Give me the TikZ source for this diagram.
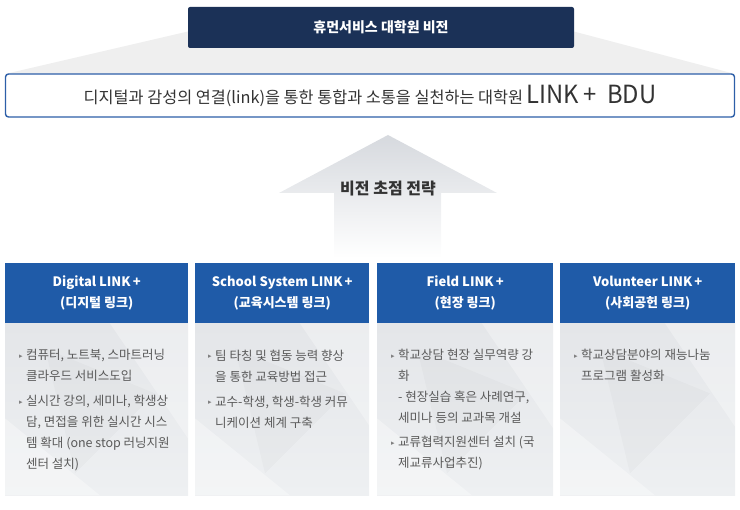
\documentclass[tikz,border=0pt]{standalone}
\usepackage{fontspec}
\setmainfont{Noto Sans CJK KR}
\newfontfamily\narrowfont[FakeStretch=0.95]{Noto Sans CJK KR}
\newfontfamily\bulletfont{DejaVu Sans}
\usetikzlibrary{positioning}
\definecolor{navy}{HTML}{1B3157}
\definecolor{linkblue}{HTML}{1F5BA8}
\definecolor{frameblue}{HTML}{2D5FA8}
\definecolor{fangray}{HTML}{EFEFEF}
\definecolor{arrowtop}{HTML}{D6D9DE}
\definecolor{bodytop}{HTML}{E4E6E9}
\definecolor{bodybot}{HTML}{EEF0F2}
\definecolor{bodytext}{HTML}{595959}
\definecolor{maintext}{HTML}{333333}
\newcommand\bul{\leavevmode\llap{\raisebox{1.5pt}{\color{gray}\bulletfont\fontsize{7}{7}\selectfont ▸}\hspace{3.5pt}}}
\begin{document}
\begin{tikzpicture}[x=1pt,y=-1pt,
  head/.style={fill=linkblue,text=white,font=\bfseries\fontsize{13}{21}\selectfont,
    align=center,minimum height=60pt,inner sep=0pt,anchor=north west},
  body/.style={top color=bodytop,bottom color=bodybot,minimum height=172pt,inner sep=0pt},
  items/.style={text=bodytext,font=\fontsize{12.5}{21}\selectfont,align=left,
    inner sep=0pt,anchor=north west}]
\useasboundingbox (0,0) rectangle (740,510);
% fan behind the title
\fill[fangray] (190,31) -- (572,31) -- (735,74) -- (5,74) -- cycle;
\node (title) [fill=navy,rounded corners=2pt,minimum width=386pt,minimum height=41pt,
  text=white,font=\bfseries\fontsize{14}{16}\selectfont] at (381,27.5) {휴먼서비스 대학원 비전};
\node (vision) [draw=frameblue,line width=1.4pt,rounded corners=3pt,fill=white,
  minimum width=729pt,minimum height=43pt,text=maintext] at (370,95.5)
  {\fontsize{16.3}{18}\selectfont 디지털과 감성의 연결(link)을 통한 통합과 소통을 실천하는 대학원\
   {\narrowfont\fontsize{25}{26}\selectfont LINK\,+~~BDU}};
% arrow
\shade[top color=arrowtop,middle color=arrowtop!75!white,bottom color=white]
  (388,135) -- (497,193) -- (441,193) -- (441,258) -- (334,258) -- (334,193) -- (279,193) -- cycle;
\node (focus) [text=maintext,font=\bfseries\fontsize{16}{18}\selectfont] at (388,189) {비전 초점 전략};
% columns
\node[head,minimum width=183pt] (dighead) at (5,263) {Digital LINK\,+\\(디지털 링크)};
\node[body,minimum width=183pt,below=0pt of dighead] (digbody) {};
\node[head,minimum width=174pt] (schhead) at (195,263) {School System LINK\,+\\(교육시스템 링크)};
\node[body,minimum width=174pt,below=0pt of schhead] (schbody) {};
\node[head,minimum width=176pt] (fldhead) at (377,263) {Field LINK\,+\\(현장 링크)};
\node[body,minimum width=176pt,below=0pt of fldhead] (fldbody) {};
\node[head,minimum width=175pt] (volhead) at (560,263) {Volunteer LINK\,+\\(사회공헌 링크)};
\node[body,minimum width=175pt,below=0pt of volhead] (volbody) {};
\foreach \b in {digbody,schbody,fldbody,volbody}{
  \begin{scope}
    \clip (\b.north west) rectangle (\b.south east);
    \fill[white,opacity=.35] ([shift={(0,95)}]\b.north west) -- ([shift={(95,172)}]\b.north west)
      -- ([shift={(0,172)}]\b.north west) -- cycle;
    \fill[white,opacity=.3] ([shift={(105,0)}]\b.north west) -- ([shift={(183,0)}]\b.north west)
      -- ([shift={(183,115)}]\b.north west) -- cycle;
    \fill[black,opacity=.02] ([shift={(40,25)}]\b.north west) -- ([shift={(150,70)}]\b.north west)
      -- ([shift={(70,150)}]\b.north west) -- cycle;
  \end{scope}}
\node[items] (digtext) at ([xshift=21pt,yshift=-26pt]digbody.north west)
  {\bul 컴퓨터, 노트북, 스마트러닝\\ 클라우드 서비스도입\\[4pt]
   \bul 실시간 강의, 세미나, 학생상\\ 담, 면접을 위한 실시간 시스\\ 템 확대 (one stop 러닝지원\\ 센터 설치)};
\node[items] (schtext) at ([xshift=20pt,yshift=-26pt]schbody.north west)
  {\bul 팀 타칭 및 협동 능력 향상\\ 을 통한 교육방법 접근\\[4pt]
   \bul 교수-학생, 학생-학생 커뮤\\ 니케이션 체계 구축};
\node[items] (fldtext) at ([xshift=21pt,yshift=-26pt]fldbody.north west)
  {\bul 학교상담 현장 실무역량 강\\ 화\\ - 현장실습 혹은 사례연구,\\ 세미나 등의 교과목 개설\\[3pt]
   \bul 교류협력지원센터 설치 (국\\ 제교류사업추진)};
\node[items] (voltext) at ([xshift=21pt,yshift=-26pt]volbody.north west)
  {\bul 학교상담분야의 재능나눔\\ 프로그램 활성화};
\end{tikzpicture}
\end{document}
